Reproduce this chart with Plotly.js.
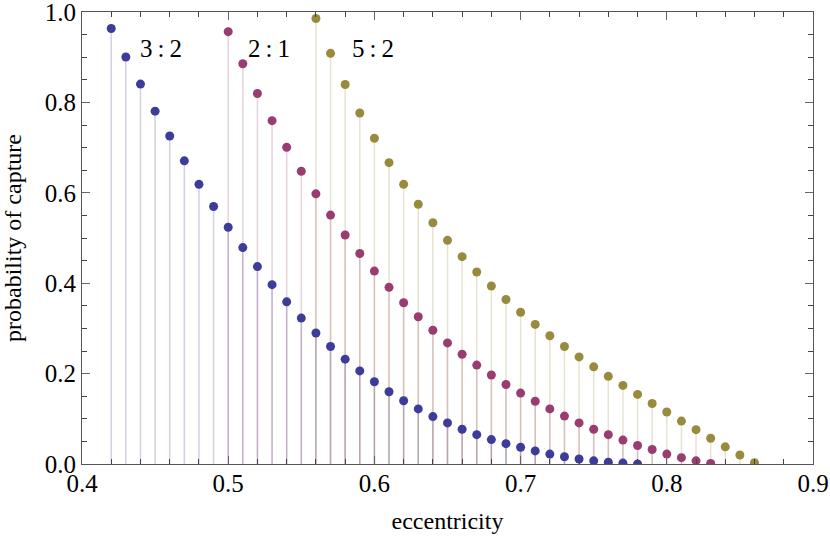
<!DOCTYPE html>
<html>
<head>
<meta charset="utf-8">
<script src="https://cdn.plot.ly/plotly-3.0.1.min.js"></script>
<style>
  body { margin: 0; background: #fff; }
  #plotArea { width: 830px; height: 540px; }
</style>
</head>
<body>
<div id="plotArea"></div>
<script>
// eccentricity values for each resonance
var ecc32 = [0.42, 0.43, 0.44, 0.45, 0.46, 0.47, 0.48, 0.49, 0.50, 0.51, 0.52, 0.53, 0.54, 0.55, 0.56, 0.57, 0.58, 0.59,
  0.60, 0.61, 0.62, 0.63, 0.64, 0.65, 0.66, 0.67, 0.68, 0.69, 0.70, 0.71, 0.72, 0.73, 0.74, 0.75, 0.76, 0.77, 0.78];
var prob32 = [0.964, 0.901, 0.841, 0.781, 0.726, 0.671, 0.619, 0.570, 0.524, 0.479, 0.437, 0.397, 0.359, 0.323, 0.290, 0.260, 0.232, 0.206,
  0.182, 0.160, 0.140, 0.122, 0.105, 0.091, 0.077, 0.065, 0.054, 0.045, 0.037, 0.029, 0.022, 0.016, 0.011, 0.007, 0.004, 0.002, 0.000];

var ecc21 = [0.50, 0.51, 0.52, 0.53, 0.54, 0.55, 0.56, 0.57, 0.58, 0.59, 0.60, 0.61, 0.62, 0.63, 0.64, 0.65, 0.66,
  0.67, 0.68, 0.69, 0.70, 0.71, 0.72, 0.73, 0.74, 0.75, 0.76, 0.77, 0.78, 0.79, 0.80, 0.81, 0.82, 0.83];
var prob21 = [0.957, 0.886, 0.820, 0.760, 0.701, 0.648, 0.598, 0.551, 0.507, 0.466, 0.427, 0.391, 0.357, 0.326, 0.296, 0.268, 0.243,
  0.219, 0.197, 0.176, 0.157, 0.139, 0.122, 0.106, 0.091, 0.077, 0.065, 0.053, 0.041, 0.032, 0.022, 0.014, 0.007, 0.001];

var ecc52 = [0.56, 0.57, 0.58, 0.59, 0.60, 0.61, 0.62, 0.63, 0.64, 0.65, 0.66, 0.67, 0.68, 0.69, 0.70, 0.71,
  0.72, 0.73, 0.74, 0.75, 0.76, 0.77, 0.78, 0.79, 0.80, 0.81, 0.82, 0.83, 0.84, 0.85, 0.86];
var prob52 = [0.986, 0.909, 0.840, 0.777, 0.721, 0.667, 0.619, 0.575, 0.534, 0.495, 0.459, 0.425, 0.394, 0.364, 0.336, 0.309,
  0.284, 0.260, 0.237, 0.215, 0.194, 0.174, 0.154, 0.134, 0.115, 0.095, 0.076, 0.057, 0.038, 0.020, 0.003];

var labels = ["3\u2009:\u20092", "2\u2009:\u20091", "5\u2009:\u20092"];
var labelX = [0.4538, 0.528, 0.599];
var labelY = [0.92, 0.92, 0.92];

var series = [
  { x: ecc32, y: prob32, color: "rgb(61,61,153)", stem: "rgba(61,61,153,0.24)" },
  { x: ecc21, y: prob21, color: "rgb(153,61,113)", stem: "rgba(153,61,113,0.24)" },
  { x: ecc52, y: prob52, color: "rgb(153,139,61)", stem: "rgba(153,139,61,0.24)" }
];

var data = [];
// stems first, so every dot sits on top of them
series.forEach(function (s) {
  data.push({
    x: s.x, y: s.y, type: "scatter", mode: "markers",
    marker: { size: 1, opacity: 0 },
    error_y: {
      type: "data", symmetric: false,
      array: s.y.map(function () { return 0; }),
      arrayminus: s.y,
      width: 0, thickness: 1.5, color: s.stem
    },
    hoverinfo: "skip", showlegend: false
  });
});
series.forEach(function (s) {
  data.push({
    x: s.x, y: s.y, type: "scatter", mode: "markers",
    marker: { size: 9, color: s.color },
    showlegend: false
  });
});

var font = "Times New Roman, Liberation Serif, Tinos, DejaVu Serif, serif";

var layout = {
  width: 830,
  height: 540,
  margin: { l: 82, r: 17, t: 12, b: 76 },
  paper_bgcolor: "white",
  plot_bgcolor: "white",
  font: { family: font, size: 24, color: "black" },
  xaxis: {
    range: [0.4, 0.9],
    dtick: 0.1,
    tickformat: ".1f",
    ticks: "inside",
    ticklen: 8,
    tickcolor: "#666",
    tickfont: { family: font, size: 25 },
    ticklabeloverflow: "allow",
    ticklabelstandoff: -3,
    minor: { dtick: 0.02, ticks: "inside", ticklen: 5, tickcolor: "#444" },
    showline: true,
    linecolor: "#555",
    mirror: "ticks",
    showgrid: false,
    zeroline: false,
    title: { text: "eccentricity", font: { family: font, size: 24 }, standoff: 16 }
  },
  yaxis: {
    range: [0, 1.0005],
    dtick: 0.2,
    tickformat: ".1f",
    ticks: "inside",
    ticklen: 8,
    tickcolor: "#666",
    tickfont: { family: font, size: 25 },
    ticklabeloverflow: "allow",
    minor: { dtick: 0.05, ticks: "inside", ticklen: 5, tickcolor: "#444" },
    showline: true,
    linecolor: "#555",
    mirror: "ticks",
    showgrid: false,
    zeroline: false,
    title: { text: "probability of capture", font: { family: font, size: 24 }, standoff: 18 }
  },
  annotations: labels.map(function (t, i) {
    return {
      x: labelX[i], y: labelY[i], xref: "x", yref: "y",
      text: t, showarrow: false,
      font: { family: font, size: 25, color: "black" }
    };
  })
};

Plotly.newPlot("plotArea", data, layout, { displayModeBar: false });
</script>
</body>
</html>
